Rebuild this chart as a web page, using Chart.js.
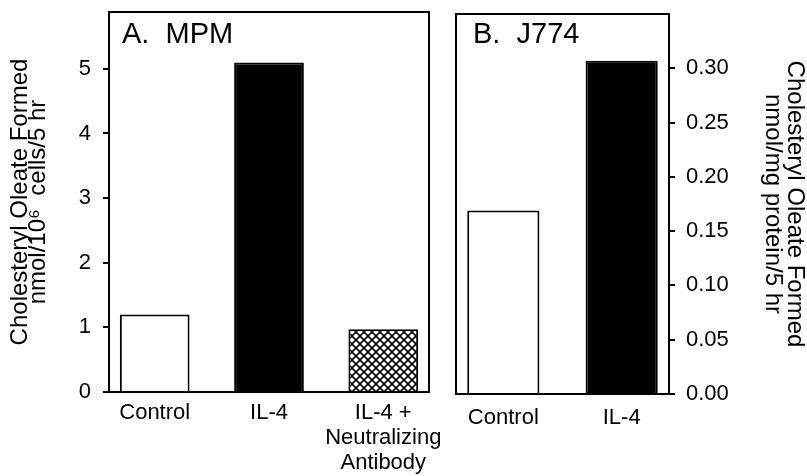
<!DOCTYPE html>
<html>
<head>
<meta charset="utf-8">
<script src="https://cdn.jsdelivr.net/npm/chart.js@4.4.1/dist/chart.umd.min.js"></script>
<style>
  html, body { margin: 0; padding: 0; background: #fff; }
  #wrap { position: relative; width: 807px; height: 476px; }
  .pane { position: absolute; top: 0; height: 476px; }
</style>
</head>
<body>
<div id="wrap">
  <div class="pane" style="left:0;width:440px"><canvas id="chartA"></canvas></div>
  <div class="pane" style="left:440px;width:367px"><canvas id="chartB"></canvas></div>
</div>
<script>
// --- 1. DỮ LIỆU ---
const categoriesA = ['Control', 'IL-4', ['IL-4 +', 'Neutralizing', 'Antibody']];
const valuesA = [1.20, 5.10, 0.97];
const yTicksA = [0, 1, 2, 3, 4, 5];

const categoriesB = ['Control', 'IL-4'];
const valuesB = [0.169, 0.307];
const yTicksB = [0, 0.05, 0.10, 0.15, 0.20, 0.25, 0.30];

const FONT = "'Liberation Sans', Arial, 'DejaVu Sans', sans-serif";

// --- 2. HOA VĂN GẠCH CHÉO ---
function makeHatch() {
    const c = document.createElement('canvas');
    const s = 8;
    c.width = s; c.height = s;
    const g = c.getContext('2d');
    g.fillStyle = '#fff';
    g.fillRect(0, 0, s, s);
    g.strokeStyle = '#000';
    g.lineWidth = 1.6;
    g.beginPath();
    g.moveTo(0, 0); g.lineTo(s, s);
    g.moveTo(0, s); g.lineTo(s, 0);
    g.stroke();
    return g.createPattern(c, 'repeat');
}
const hatch = makeHatch();

// khung + nhãn panel
const framePlugin = {
    id: 'frame',
    afterDatasetsDraw(chart, args, opts) {
        const { ctx, chartArea: a } = chart;
        ctx.save();
        ctx.strokeStyle = '#000';
        ctx.lineWidth = 2;
        ctx.strokeRect(a.left, a.top, a.right - a.left, a.bottom - a.top);
        ctx.fillStyle = '#000';
        ctx.font = `29px ${FONT}`;
        ctx.textBaseline = 'alphabetic';
        ctx.fillText(opts.label, a.left + opts.dx, a.top + opts.dy);
        ctx.restore();
    }
};

Chart.defaults.font.family = FONT;
Chart.defaults.color = '#000';

// bỏ phần đệm tự động do nhãn tràn
function fixBox(prop, size) {
    return s => {
        s[prop] = size;
        s.paddingLeft = 0; s.paddingRight = 0;
        s.paddingTop = 0; s.paddingBottom = 0;
    };
}

// --- 3. PANEL A ---
new Chart(document.getElementById('chartA'), {
    type: 'bar',
    data: {
        datasets: [{
            data: valuesA.map((v, i) => ({ x: i, y: v })),
            backgroundColor: ['#fff', '#000', hatch],
            borderColor: '#000',
            borderWidth: 2,
            categoryPercentage: 1,
            barPercentage: 0.61
        }]
    },
    options: {
        responsive: true,
        maintainAspectRatio: false,
        animation: false,
        layout: { padding: { top: 12, right: 11, left: 0, bottom: 0 } },
        plugins: {
            legend: { display: false },
            tooltip: { enabled: false },
            frame: { label: 'A.  MPM', dx: 13, dy: 31 }
        },
        scales: {
            x: {
                type: 'linear',
                offset: false,
                min: -0.4,
                max: 2.4,
                afterBuildTicks: s => { s.ticks = categoriesA.map((c, i) => ({ value: i })); },
                afterFit: fixBox('height', 84),
                grid: { display: false, drawTicks: false },
                border: { display: true, color: '#000', width: 2 },
                ticks: {
                    callback: (v, i) => categoriesA[i],
                    font: { size: 22, lineHeight: '25px' },
                    padding: 8,
                    maxRotation: 0,
                    autoSkip: false
                }
            },
            y: {
                min: 0,
                max: 5.88,
                afterBuildTicks: s => { s.ticks = yTicksA.map(v => ({ value: v })); },
                afterFit: fixBox('width', 109),
                grid: { drawOnChartArea: false, drawTicks: true, tickLength: 6, color: '#000', lineWidth: 2 },
                border: { display: true, color: '#000', width: 2 },
                ticks: { font: { size: 22 }, padding: 12 },
                title: {
                    display: true,
                    text: ['Cholesteryl Oleate Formed', 'nmol/10\u2076  cells/5 hr'],
                    font: { size: 24, lineHeight: '17.5px' },
                    padding: { top: 12, bottom: 0 }
                }
            }
        }
    },
    plugins: [framePlugin]
});

// --- 4. PANEL B ---
new Chart(document.getElementById('chartB'), {
    type: 'bar',
    data: {
        datasets: [{
            data: valuesB.map((v, i) => ({ x: i, y: v })),
            backgroundColor: ['#fff', '#000'],
            borderColor: '#000',
            borderWidth: 2,
            categoryPercentage: 1,
            barPercentage: 0.61
        }]
    },
    options: {
        responsive: true,
        maintainAspectRatio: false,
        animation: false,
        layout: { padding: { top: 14, right: 0, left: 16, bottom: 0 } },
        plugins: {
            legend: { display: false },
            tooltip: { enabled: false },
            frame: { label: 'B.  J774', dx: 17, dy: 29 }
        },
        scales: {
            x: {
                type: 'linear',
                offset: false,
                min: -0.4,
                max: 1.4,
                afterBuildTicks: s => { s.ticks = categoriesB.map((c, i) => ({ value: i })); },
                afterFit: fixBox('height', 82),
                grid: { display: false, drawTicks: false },
                border: { display: true, color: '#000', width: 2 },
                ticks: {
                    callback: (v, i) => categoriesB[i],
                    font: { size: 22, lineHeight: '25px' },
                    padding: 11,
                    maxRotation: 0,
                    autoSkip: false
                }
            },
            y: {
                position: 'right',
                min: 0,
                max: 0.35,
                afterBuildTicks: s => { s.ticks = yTicksB.map(v => ({ value: v })); },
                afterFit: fixBox('width', 138),
                grid: { drawOnChartArea: false, drawTicks: true, tickLength: 6, color: '#000', lineWidth: 2 },
                border: { display: true, color: '#000', width: 2 },
                ticks: { font: { size: 22 }, padding: 11, callback: v => Number(v).toFixed(2) },
                title: {
                    display: true,
                    text: ['Cholesteryl Oleate Formed', 'nmol/mg protein/5 hr'],
                    font: { size: 24, lineHeight: '22px' },
                    padding: { top: 1.5, bottom: 0 }
                }
            }
        }
    },
    plugins: [framePlugin]
});
</script>
</body>
</html>
